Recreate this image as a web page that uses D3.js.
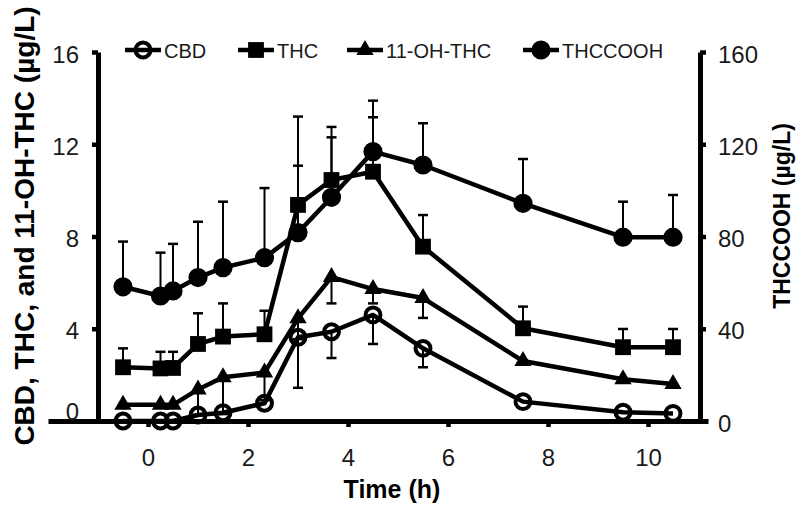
<!DOCTYPE html>
<html><head><meta charset="utf-8">
<script src="https://cdn.jsdelivr.net/npm/d3@7"></script>
<style>body{margin:0;background:#fff} svg{display:block}</style>
</head><body>
<svg id="c" width="800" height="508"></svg>
<script>
// ---- data ----
const times      = [-0.5, 0.25, 0.5, 1, 1.5, 2.33, 3, 3.67, 4.5, 5.5, 7.5, 9.5, 10.5];
const cbd        = [0, 0, 0, 0.26, 0.36, 0.77, 3.63, 3.87, 4.6, 3.15, 0.84, 0.38, 0.33];
const cbdSD      = [0, 0, 0, 0, 0, 0, 2.19, 1.14, 1.26, 0.82, 0, 0, 0];
const thc        = [2.33, 2.28, 2.3, 3.34, 3.66, 3.76, 9.37, 10.45, 10.81, 7.56, 4.02, 3.2, 3.2];
const thcSD      = [0.82, 0.72, 0.7, 1.33, 1.44, 1.02, 3.83, 2.3, 2.36, 1.37, 0.94, 0.79, 0.79];
const ohThc      = [0.7, 0.7, 0.7, 1.37, 1.9, 2.1, 4.45, 6.24, 5.72, 5.33, 2.6, 1.81, 1.6];
const ohThcSD    = [0, 0, 0, 1.1, 1.6, 1.2, 0.9, 1.14, 0.62, 0.86, 0, 0, 0];
const thccooh    = [58.2, 54.2, 56.4, 62.2, 66.5, 70.8, 81.7, 97, 116.8, 111, 94.4, 79.7, 79.7];
const thccoohSD  = [19.6, 18.8, 20.4, 24.2, 28.6, 30.2, 29, 26, 22.1, 18.1, 19.2, 15.4, 18.3];
const xTicks     = [0, 2, 4, 6, 8, 10];
const leftTicks  = [0, 4, 8, 12, 16];
const rightTicks = [0, 40, 80, 120, 160];
const seriesNames = ["CBD", "THC", "11-OH-THC", "THCCOOH"];

const FONT = "'Liberation Sans', Arial, Helvetica, sans-serif";
const svg = d3.select("#c");

const x  = d3.scaleLinear().domain([-2, 11.2]).range([48, 708]);
const yL = d3.scaleLinear().domain([0, 16]).range([421, 52]);
const yR = d3.scaleLinear().domain([0, 160]).range([421, 52]);
const leftAt = x(-1), rightAt = x(11.04);

// axes
const gx = svg.append("g").attr("transform", `translate(0,${yL(0)})`)
  .call(d3.axisBottom(x).tickValues(xTicks).tickSize(6).tickSizeOuter(0).tickPadding(22).tickFormat(d3.format("d")));
const gl = svg.append("g").attr("transform", `translate(${leftAt},0)`)
  .call(d3.axisLeft(yL).tickValues(leftTicks).tickSize(6).tickSizeOuter(0).tickPadding(13).tickFormat(d3.format("d")));
const gr = svg.append("g").attr("transform", `translate(${rightAt},0)`)
  .call(d3.axisRight(yR).tickValues(rightTicks).tickSize(6).tickSizeOuter(0).tickPadding(12).tickFormat(d3.format("d")));
[gx, gl, gr].forEach(g => {
  g.select(".domain").attr("stroke", "#000").attr("stroke-width", 5);
  g.selectAll(".tick line").attr("stroke", "#000").attr("stroke-width", 4.5);
  g.selectAll(".tick text").attr("fill", "#1a1a1a").style("font-family", FONT).style("font-size", "24px");
});
gl.selectAll(".tick text").attr("dy", "0.42em");
gl.selectAll(".tick text").filter(d => d === 0).attr("dy", "-0.05em");
gr.selectAll(".tick text").attr("dy", "0.42em");

// axis titles
svg.append("text").attr("transform", "translate(34,226) rotate(-90)")
  .attr("text-anchor", "middle").style("font-family", FONT).style("font-weight", "bold")
  .style("font-size", "28px").text("CBD, THC, and 11-OH-THC (\u00b5g/L)");
svg.append("text").attr("transform", "translate(790,216) rotate(-90)")
  .attr("text-anchor", "middle").style("font-family", FONT).style("font-weight", "bold")
  .style("font-size", "23px").text("THCCOOH (\u00b5g/L)");
svg.append("text").attr("x", 392).attr("y", 498)
  .attr("text-anchor", "middle").style("font-family", FONT).style("font-weight", "bold")
  .style("font-size", "25px").text("Time (h)");

// series definitions
const series = [
  {name: seriesNames[0], vals: cbd, sd: cbdSD, y: yL, dir: -1, sym: d3.symbolCircle, size: 175, open: true},
  {name: seriesNames[1], vals: thc, sd: thcSD, y: yL, dir: 1, sym: d3.symbolSquare, size: 250, open: false},
  {name: seriesNames[2], vals: ohThc, sd: ohThcSD, y: yL, dir: -1, sym: d3.symbolTriangle, size: 130, open: false},
  {name: seriesNames[3], vals: thccooh, sd: thccoohSD, y: yR, dir: 1, sym: d3.symbolCircle, size: 290, open: false}
];

const line = (s) => d3.line().x((d, i) => x(times[i])).y(d => s.y(d));

// error bars
series.forEach(s => {
  const g = svg.append("g");
  s.vals.forEach((v, i) => {
    if (!s.sd[i]) return;
    const cx = x(times[i]);
    const y0 = s.y(v), y1 = s.y(v + s.dir * s.sd[i]);
    g.append("line").attr("x1", cx).attr("x2", cx).attr("y1", y0).attr("y2", y1)
      .attr("stroke", "#000").attr("stroke-width", 2);
    g.append("line").attr("x1", cx - 5).attr("x2", cx + 5).attr("y1", y1).attr("y2", y1)
      .attr("stroke", "#000").attr("stroke-width", 2.5);
  });
});

// lines
series.forEach(s => {
  svg.append("path").datum(s.vals).attr("d", line(s)).attr("fill", "none")
    .attr("stroke", "#000").attr("stroke-width", 4.5).attr("stroke-linejoin", "round");
});

// markers
function marker(g, s, cx, cy) {
  const p = g.append("path").attr("d", d3.symbol().type(s.sym).size(s.size)())
    .attr("transform", `translate(${cx},${cy})`);
  if (s.open) p.attr("fill", "none").attr("stroke", "#000").attr("stroke-width", 4);
  else p.attr("fill", "#000");
}
series.forEach(s => {
  const g = svg.append("g");
  s.vals.forEach((v, i) => marker(g, s, x(times[i]), s.y(v)));
});

// legend
const legendX = [125, 238, 347, 523];
series.forEach((s, k) => {
  const g = svg.append("g");
  const lx = legendX[k], ly = 50;
  g.append("line").attr("x1", lx).attr("x2", lx + 36).attr("y1", ly).attr("y2", ly)
    .attr("stroke", "#000").attr("stroke-width", 4.5);
  marker(g, s, lx + 18, ly);
  g.append("text").attr("x", lx + 39).attr("y", ly + 7.5)
    .style("font-family", FONT).style("font-size", "20px").attr("fill", "#1a1a1a").text(s.name);
});
</script></body></html>
